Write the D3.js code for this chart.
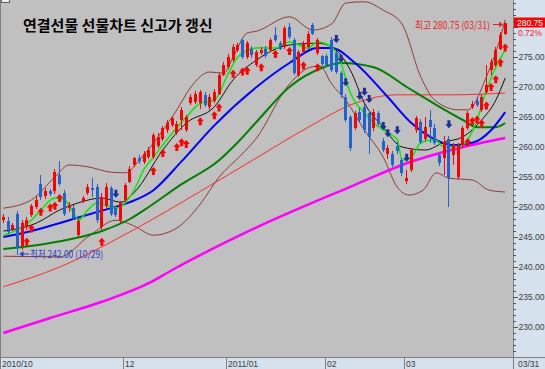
<!DOCTYPE html>
<html><head><meta charset="utf-8">
<script src="https://cdn.jsdelivr.net/npm/d3@7"></script>
<style>
html,body{margin:0;padding:0;background:#fff;}
svg{display:block;}
</style></head><body>
<svg id="c" width="545" height="369"></svg>
<script>
// ---------------- DATA ----------------
const tradingDays = [
  ["2010-10",[26,27,28,29]],
  ["2010-11",[1,2,3,4,5,8,9,10,11,12,15,16,17,18,19,22,23,24,25,26,29,30]],
  ["2010-12",[1,2,3,6,7,8,9,10,13,14,15,16,17,20,21,22,23,24,27,28,29,30]],
  ["2011-01",[3,4,5,6,7,10,11,12,13,14,17,18,19,20,21,24,25,26,27,28,31]],
  ["2011-02",[1,7,8,9,10,11,14,15,16,17,18,21,22,23,24,25,28]],
  ["2011-03",[2,3,4,7,8,9,10,11,14,15,16,17,18,21,22,23,24,25,28,29,30,31]]
];
const dates = tradingDays.flatMap(([m, ds]) => ds.map(d => m + "-" + String(d).padStart(2, "0")));

const opens = [247.8,247.7,246.4,248.9,243.5,246.6,248.6,250.0,253.9,251.8,
  252.6,252.6,255.3,252.3,249.8,249.9,245.3,251.0,252.3,253.2,
  253.4,246.7,250.1,253.1,249.8,247.8,251.2,254.2,257.0,258.1,
  257.5,258.4,258.4,260.1,261.4,262.8,263.7,262.3,264.5,262.8,
  267.3,267.5,267.3,268.7,266.7,267.6,268.9,272.0,273.4,274.5,
  276.2,277.8,275.0,276.4,273.7,275.6,276.4,276.2,278.7,277.3,
  276.7,280.0,277.8,272.0,275.9,276.7,280.3,275.6,275.1,275.1,
  277.8,275.6,272.3,268.4,265.0,263.1,265.9,266.7,265.6,263.1,
  265.6,261.0,258.9,258.9,260.2,257.8,254.4,256.2,262.8,264.2,
  261.4,264.5,263.1,258.6,258.1,261.4,258.7,255.0,260.3,263.1,
  266.7,267.6,266.2,269.2,272.8,273.7,276.4,278.9];
const highs = [248.9,248.3,247.3,249.3,247.8,248.3,250.5,251.8,255.3,253.2,
  253.0,256.3,257.6,252.8,250.8,250.3,248.0,251.9,253.8,254.8,
  253.8,252.3,254.0,253.5,250.2,251.0,254.0,256.8,258.4,258.6,
  259.3,260.0,262.4,262.3,263.5,264.5,265.2,264.3,266.6,265.3,
  268.8,269.3,269.5,269.1,268.8,269.6,272.4,274.1,275.5,277.1,
  277.4,278.1,277.6,276.8,276.2,276.7,276.8,278.2,280.0,277.7,
  280.2,280.6,278.1,276.2,277.7,279.3,280.7,278.1,275.4,275.5,
  278.4,276.0,272.7,268.8,265.4,266.0,266.5,267.2,266.0,266.3,
  266.0,261.5,260.3,259.3,260.8,258.2,256.2,259.9,265.2,264.6,
  265.0,266.2,263.8,259.0,261.8,261.8,260.7,260.7,263.5,266.0,
  267.6,268.4,268.8,273.7,274.6,276.7,279.2,280.75];
const lows = [247.3,245.5,246.0,242.0,242.8,246.2,248.4,249.6,251.2,251.4,
  251.9,252.2,253.5,248.5,249.2,247.8,245.0,250.7,252.0,251.6,
  247.4,246.2,249.8,248.5,248.4,247.4,250.8,254.0,256.6,257.2,
  257.2,258.0,258.0,259.8,261.0,262.4,263.3,262.0,262.8,262.5,
  267.0,267.2,266.3,266.7,266.2,267.3,268.6,271.8,273.0,274.2,
  275.9,274.6,274.7,274.8,273.4,275.3,274.8,275.9,277.5,276.1,
  276.3,278.0,272.0,271.7,275.6,276.4,278.6,275.3,273.5,273.3,
  272.5,272.2,268.2,264.2,259.4,262.8,264.0,262.4,258.9,262.7,
  263.5,259.2,258.0,256.6,258.9,255.2,253.9,255.9,262.4,260.5,
  261.0,260.6,260.3,256.9,255.4,250.0,257.0,254.7,259.9,262.8,
  266.3,266.6,265.9,268.9,272.0,273.3,276.1,278.6];
const closes = [248.4,245.9,247.0,243.2,247.3,247.8,250.1,251.2,251.6,252.6,
  252.2,255.9,253.9,248.9,250.3,248.1,247.6,251.5,253.4,252.9,
  247.8,251.7,253.4,248.9,248.7,250.6,253.7,256.4,258.1,257.6,
  258.9,259.5,262.0,261.7,263.1,264.0,264.8,263.9,266.2,265.0,
  268.4,268.9,269.2,267.0,268.4,269.2,272.0,273.7,275.0,276.7,
  277.0,275.0,277.3,275.3,275.9,276.2,275.1,277.8,277.8,276.4,
  279.8,278.4,272.3,275.9,277.3,278.9,278.9,277.8,273.9,273.7,
  272.8,272.5,268.6,264.5,259.8,265.6,264.5,262.8,261.7,265.9,
  263.9,259.5,259.8,257.0,259.3,255.6,254.8,259.5,264.8,260.9,
  263.4,263.4,260.6,257.3,260.9,254.8,260.3,260.3,263.1,265.6,
  267.1,267.0,268.4,270.3,274.2,276.2,278.7,280.75];

// indicator lines: [candle index, value]
const ma5 = [[0,245.3],[6,247.8],[8,249.5],[11,251.5],[13,251.2],[15,249.0],[16,247.8],[18,249.5],[20,250.7],[22,250.3],[24,249.8],[26,250.7],[28,253.0],[30,256.3],[32,258.3],[36,262.3],[39,265.0],[42,267.3],[45,267.8],[48,272.3],[50,275.0],[54,276.5],[58,276.5],[61,277.5],[65,276.5],[67,277.5],[70,276.7],[72,274.0],[74,269.0],[75,267.5],[77,265.7],[79,264.0],[82,262.3],[84,261.2],[85,257.8],[87,258.3],[89,260.7],[92,261.2],[94,260.0],[97,260.0],[99,261.2],[101,264.5],[103,269.5],[105,273.3],[107,276.2]];
const ma10 = [[0,246.0],[7,247.3],[12,249.5],[16,250.7],[21,251.5],[25,250.8],[28,252.5],[34,259.5],[39,264.0],[45,266.7],[49,271.2],[54,274.5],[61,277.0],[67,277.3],[70,276.7],[74,272.8],[77,267.3],[81,263.3],[85,260.0],[90,259.5],[94,260.8],[98,261.7],[102,264.5],[105,267.8],[107,271.5]];
const ma20 = [[0,245.0],[6,246.0],[14,247.8],[21,249.4],[27,250.8],[32,252.8],[38,257.6],[45,263.6],[54,270.0],[61,274.0],[67,276.5],[70,276.5],[75,274.0],[82,268.3],[87,264.0],[91,261.7],[96,260.3],[100,260.7],[104,262.8],[107,265.8]];
const ma60 = [[0,243.0],[10,244.0],[21,246.0],[27,248.0],[31,250.0],[38,253.8],[46,257.8],[50,260.8],[54,264.2],[61,270.0],[68,273.2],[72,274.0],[79,273.3],[86,270.0],[93,266.7],[98,264.5],[101,263.3],[105,263.3],[107,264.0]];
const ma120 = [[0,236.7],[12,240.0],[28,246.3],[42,252.6],[54,258.2],[65,263.3],[75,267.3],[84,268.7],[96,268.7],[107,269.0]];
const ma200 = [[0,229.0],[10,231.5],[21,234.2],[31,237.3],[36,239.5],[54,246.6],[75,253.7],[86,257.3],[97,259.8],[107,261.5]];
const bbUpper = [[0,249.8],[6,251.2],[11,255.0],[14,257.0],[18,256.7],[23,255.8],[26,255.7],[29,257.8],[33,261.7],[37,266.2],[40,270.0],[44,272.5],[47,272.3],[49,275.0],[52,279.0],[54,279.3],[61,281.7],[66,279.5],[70,280.5],[73,284.0],[77,284.2],[81,282.8],[85,280.5],[89,271.7],[92,267.8],[97,266.2],[99,266.2],[103,271.7],[106,278.3],[107,281.2]];
const bbLower = [[0,241.8],[12,241.7],[18.5,245.3],[24,247.8],[28,246.8],[32,245.3],[37,246.5],[42,250.5],[46,255.0],[50.5,258.5],[54,261.5],[60.5,270.0],[65.5,273.3],[67.5,273.5],[70,270.5],[73,267.8],[77,262.8],[81,258.3],[84,253.3],[86.5,252.0],[89.5,252.8],[92.3,255.7],[95,254.8],[100,254.5],[103.6,252.8],[107,252.5]];

// signal arrows (candle indices)
const buySignals = [5,6,8,10,11,12,21,32,34,37,38,39,42,45,46,49,51,52,55,58,61,64,67,99,100,101,102,103,104,105,106,107];
const sellSignals = [24,71,72,73,76,77,78,81,82,84,86,95];

// axis labels
const xTickIdx = [0,26,48,69,86];
const xTickLabels = ["2010/10","12","2011/01","02","03"];
const yTickValues = [230,235,240,245,250,255,260,265,270,275];
const lastLabel = "03/31";
const highText = "최고 280.75 (03/31)";
const lowText = "최저 242.00 (10/29)";
const titleText = "연결선물 선물차트 신고가 갱신";
const lastPrice = "280.75", lastChange = "0.72%";
const lowIdx = 3, highIdx = 107;

// ---------------- CHART ----------------
const W = 545, H = 369, PR = 513, PB = 357;
const svg = d3.select("#c");
const N = dates.length;
const slotW = 4.69;
const xS = d3.scaleLinear().domain([0, N]).range([1, 1 + N * slotW]);
const xc = i => xS(i + 0.5);
const yS = d3.scaleLinear().domain([225, 284.5]).range([PB, 0]);
const axisFont = "'Liberation Sans', Arial, sans-serif";

svg.append("rect").attr("x",0).attr("y",0).attr("width",W).attr("height",H).attr("fill","#d6e1ee");
svg.append("rect").attr("x",0).attr("y",0).attr("width",PR).attr("height",PB).attr("fill","#c0c0c0");

svg.append("defs").append("clipPath").attr("id","pc").append("rect")
  .attr("x",0).attr("y",0).attr("width",PR).attr("height",PB);
const g = svg.append("g").attr("clip-path","url(#pc)");

const lineGen = d3.line().x(d => xc(d[0])).y(d => yS(d[1])).curve(d3.curveMonotoneX);
const lines = [
  [bbUpper, "#8e3a36", 1],
  [bbLower, "#8e3a36", 1],
  [ma200, "#ff00ff", 2.5],
  [ma120, "#ff2a2a", 1],
  [ma60, "#008000", 2],
  [ma20, "#0000ff", 2],
  [ma10, "#111111", 1],
  [ma5, "#00ee00", 1.5]
];
lines.forEach(([d, c, w]) => {
  g.append("path").datum(d).attr("d", lineGen).attr("fill","none")
   .attr("stroke", c).attr("stroke-width", w).attr("stroke-linejoin","round");
});

// candles
const up = i => closes[i] >= opens[i];
const colUp = "#ff0000", colDn = "#1f63d0";
const cg = g.append("g").attr("shape-rendering","crispEdges");
const idx = d3.range(N);
cg.selectAll("line.w").data(idx).join("line")
  .attr("x1", i => Math.round(xc(i) - 1.5) + 1.5)
  .attr("x2", i => Math.round(xc(i) - 1.5) + 1.5)
  .attr("y1", i => yS(highs[i])).attr("y2", i => yS(lows[i]))
  .attr("stroke", i => up(i) ? colUp : colDn).attr("stroke-width", 1);
cg.selectAll("rect.b").data(idx).join("rect")
  .attr("x", i => Math.round(xc(i) - 1.5))
  .attr("width", 3)
  .attr("y", i => yS(Math.max(opens[i], closes[i])))
  .attr("height", i => Math.max(1, Math.abs(yS(opens[i]) - yS(closes[i]))))
  .attr("fill", i => up(i) ? colUp : colDn);

// signal arrows
const upArrow = "M0,0 L3.5,4 L1.5,4 L1.5,8 L-1.5,8 L-1.5,4 L-3.5,4 Z";
const dnArrow = "M0,0 L3.5,-4 L1.5,-4 L1.5,-8 L-1.5,-8 L-1.5,-4 L-3.5,-4 Z";
g.selectAll("path.buy").data(buySignals).join("path")
  .attr("d", upArrow).attr("fill", "#ff0000")
  .attr("transform", i => `translate(${xc(i)},${yS(lows[i]) + 8})`);
g.selectAll("path.sell").data(sellSignals).join("path")
  .attr("d", dnArrow).attr("fill", "#1b2f98")
  .attr("transform", i => `translate(${xc(i)},${yS(highs[i]) - 8})`);

// title
svg.append("text").attr("x", 23).attr("y", 31).text(titleText)
  .attr("font-family", "'Noto Sans CJK KR', sans-serif").attr("font-weight", "bold")
  .attr("font-size", 15).attr("fill", "#000");

// high annotation
const hy = yS(highs[highIdx]) + 2;
svg.append("text").attr("x", 415).attr("y", hy + 4).text(highText)
  .attr("font-family","'Noto Sans CJK KR', sans-serif").attr("font-size", 10)
  .attr("textLength", 75).attr("lengthAdjust","spacingAndGlyphs").attr("fill","#ee1c1c");
svg.append("line").attr("x1", 493).attr("x2", xc(highIdx) - 3).attr("y1", hy).attr("y2", hy)
  .attr("stroke","#ee1c1c").attr("stroke-width",1);
svg.append("path").attr("d", `M${xc(highIdx)-2},${hy} l-4,-3 l0,6 Z`).attr("fill","#ee1c1c");

// low annotation
const ly = yS(lows[lowIdx]) - 1;
svg.append("line").attr("x1", xc(lowIdx) + 3).attr("x2", 29).attr("y1", ly).attr("y2", ly)
  .attr("stroke","#2a3cc8").attr("stroke-width",1);
svg.append("path").attr("d", `M${xc(lowIdx)+2},${ly} l4,-3 l0,6 Z`).attr("fill","#2a3cc8");
svg.append("text").attr("x", 30).attr("y", ly + 4).text(lowText)
  .attr("font-family","'Noto Sans CJK KR', sans-serif").attr("font-size", 10)
  .attr("textLength", 73).attr("lengthAdjust","spacingAndGlyphs").attr("fill","#2a3cc8");

// right axis
const ax = svg.append("g").attr("shape-rendering","crispEdges");
ax.append("line").attr("x1", PR + 0.5).attr("x2", PR + 0.5).attr("y1", 0).attr("y2", H).attr("stroke","#7f7f7f");
ax.selectAll("line.mt").data(d3.range(226, 285)).join("line")
  .attr("x1", PR).attr("x2", v => v % 5 === 0 ? PR + 5 : PR + 3)
  .attr("y1", v => Math.round(yS(v)) + 0.5).attr("y2", v => Math.round(yS(v)) + 0.5)
  .attr("stroke","#555");
ax.selectAll("text.yl").data(yTickValues).join("text")
  .attr("x", PR + 5.5).attr("y", v => yS(v) + 3).text(v => d3.format(".2f")(v))
  .attr("font-family", axisFont).attr("font-size", 8.5).attr("fill","#3a3a3a");

// last price box
svg.append("text").attr("x", PR + 5).attr("y", 36).text(lastChange)
  .attr("font-family", axisFont).attr("font-size", 8.5).attr("fill","#ee1c1c");
svg.append("rect").attr("x", PR + 1).attr("y", yS(+lastPrice) - 5).attr("width", W - PR - 1).attr("height", 10)
  .attr("fill","#ff0000");
svg.append("text").attr("x", PR + 4).attr("y", yS(+lastPrice) + 3.2).text(lastPrice)
  .attr("font-family", axisFont).attr("font-size", 8.5).attr("fill","#fff");

// bottom axis
const bx = svg.append("g").attr("shape-rendering","crispEdges");
bx.append("line").attr("x1", 0).attr("x2", W).attr("y1", PB + 0.5).attr("y2", PB + 0.5).attr("stroke","#7f7f7f");
bx.append("line").attr("x1", 0.5).attr("x2", 0.5).attr("y1", 0).attr("y2", H).attr("stroke","#7f7f7f");
xTickIdx.forEach((ti, k) => {
  const x = Math.round(xS(ti));
  if (k > 0) bx.append("line").attr("x1", x + 0.5).attr("x2", x + 0.5).attr("y1", PB).attr("y2", H).attr("stroke","#7f7f7f");
  const t = xTickLabels[k];
  bx.append("text").attr("x", k === 0 ? 2 : x + 2).attr("y", 366.5).text(t)
    .attr("font-family", axisFont).attr("font-size", 8.5).attr("fill","#3a3a3a");
});
bx.append("text").attr("x", PR + 5).attr("y", 366.5).text(lastLabel)
  .attr("font-family", axisFont).attr("font-size", 8.5).attr("fill","#3a3a3a");

// tiny window icon at top-left
svg.append("rect").attr("x", 1.5).attr("y", -3.5).attr("width", 8).attr("height", 6)
  .attr("fill","#f0f0f0").attr("stroke","#606060");
</script>
</body></html>
